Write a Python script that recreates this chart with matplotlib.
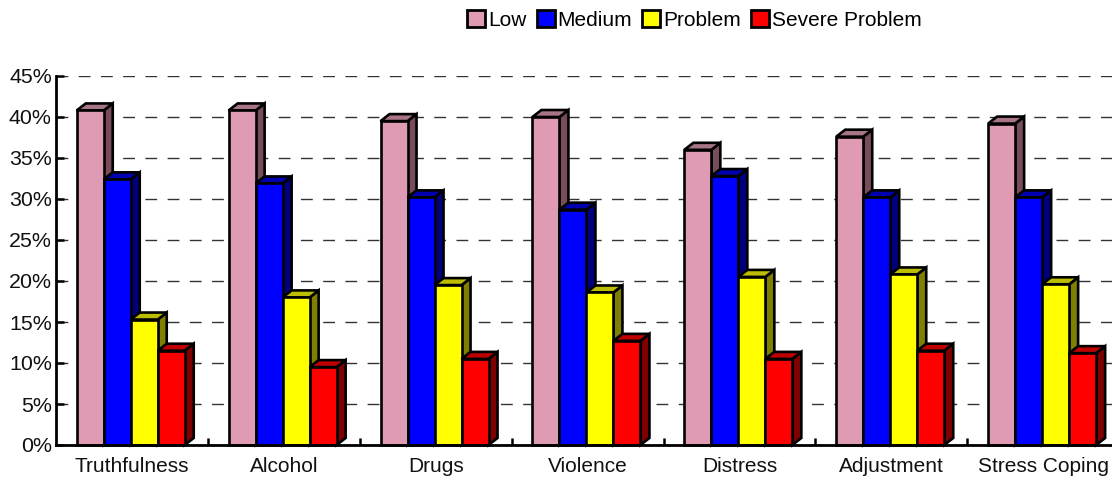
import numpy as np
import matplotlib
matplotlib.use("Agg")
import matplotlib.pyplot as plt
from matplotlib.patches import Polygon, Patch
from matplotlib.ticker import FuncFormatter, MultipleLocator

plt.rcParams['font.family'] = ['Liberation Sans', 'DejaVu Sans']

categories = ["Truthfulness", "Alcohol", "Drugs", "Violence", "Distress", "Adjustment", "Stress Coping"]
series_names = ["Low", "Medium", "Problem", "Severe Problem"]
low = [40.8, 40.8, 39.5, 40.0, 36.0, 37.6, 39.2]
medium = [32.4, 31.9, 30.2, 28.7, 32.8, 30.2, 30.2]
problem = [15.3, 18.0, 19.5, 18.6, 20.5, 20.8, 19.6]
severe = [11.5, 9.5, 10.5, 12.7, 10.5, 11.5, 11.2]
front_colors = ["#DF9AB4", "#0000FF", "#FFFF00", "#FF0000"]
top_colors = ["#A87488", "#0000B0", "#BDBD00", "#C00000"]
side_colors = ["#784D5A", "#00007F", "#7F7F00", "#7F0000"]

W, H = 1112, 478
fig = plt.figure(figsize=(W / 100, H / 100), dpi=100)
left, right, top, bottom = 56, 1112, 76, 445
ax = fig.add_axes([left / W, (H - bottom) / H, (right - left) / W, (bottom - top) / H])

pitch = 151.9
ax.set_xlim(0, (right - left) / pitch)
ax.set_ylim(0, 45)
bar_w = 27 / pitch
dx = 9 / pitch
dy = 7 / (369 / 45)

for s, vals in enumerate([low, medium, problem, severe]):
    for i, v in enumerate(vals):
        x0 = i + 0.5 + (s - 2) * bar_w - 0.008
        x1 = x0 + bar_w
        kw = dict(edgecolor="black", linewidth=1.9, joinstyle="miter", zorder=3 + s, clip_on=False)
        ax.add_patch(Polygon([(x1, 0), (x1 + dx, dy), (x1 + dx, v + dy), (x1, v)], facecolor=side_colors[s], **kw))
        ax.add_patch(Polygon([(x0, v), (x0 + dx, v + dy), (x1 + dx, v + dy), (x1, v)], facecolor=top_colors[s], **kw))
        ax.add_patch(Polygon([(x0, 0), (x1, 0), (x1, v), (x0, v)], facecolor=front_colors[s], **kw))

ax.yaxis.set_major_locator(MultipleLocator(5))
ax.yaxis.set_major_formatter(FuncFormatter(lambda y, _: f"{y:.0f}%"))
ax.set_xticks(np.arange(1, 7))
ax.set_xticklabels([])
ax.set_xticks(np.arange(len(categories)) + 0.5, minor=True)
ax.set_xticklabels(categories, minor=True)
ax.tick_params(axis="x", which="minor", length=0, labelsize=15, pad=9, colors="#111111")
ax.tick_params(axis="x", which="major", direction="in", length=5, width=1.8)
ax.tick_params(axis="y", direction="in", length=6, width=1.8, labelsize=15.4, pad=3, labelcolor="#111111")
ax.grid(axis="y", color="#333333", linewidth=1, linestyle=(0, (8.5, 7.5)), zorder=1)
ax.set_axisbelow(True)
for sp in ["top", "right"]:
    ax.spines[sp].set_visible(False)
for sp in ["left", "bottom"]:
    ax.spines[sp].set_linewidth(2)
    ax.spines[sp].set_zorder(10)

handles = [Patch(facecolor=c, edgecolor="black", linewidth=2) for c in front_colors]
fig.legend(handles, series_names, loc="upper left", bbox_to_anchor=(463 / W, 1 - 6 / H), ncol=4, frameon=False,
           fontsize=15, handlelength=0.87, handleheight=0.9, handletextpad=0.12, columnspacing=0.5, borderpad=0.2, borderaxespad=0)
fig.savefig("out.png", dpi=100)
